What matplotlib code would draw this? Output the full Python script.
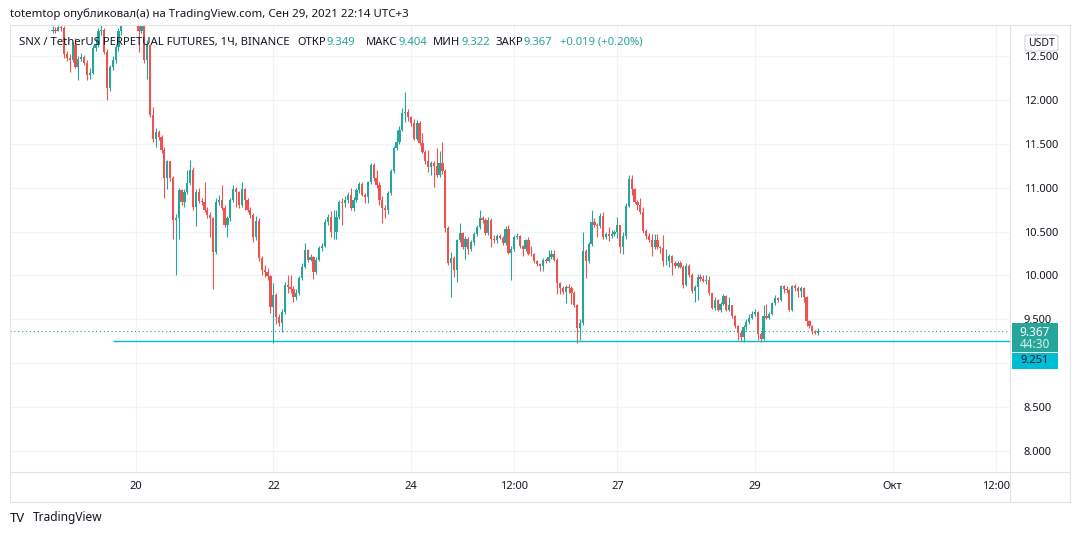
import datetime as dt
import numpy as np
import matplotlib
matplotlib.use("Agg")
import matplotlib.pyplot as plt
import matplotlib.dates as mdates
from matplotlib.patches import Rectangle, FancyBboxPatch
from matplotlib.lines import Line2D

plt.rcParams['font.family'] = ['Noto Sans', 'DejaVu Sans']

# ---------------- data ----------------
first_candle = dt.datetime(2021, 9, 18, 19, 0)
first_open = 12.78

close = [
    # Sep 18 19:00-23:00
    12.80, 12.79, 12.83, 12.82, 12.52,
    # Sep 19
    12.48, 12.45, 12.62, 12.38, 12.47, 12.49, 12.42, 12.28, 12.31, 12.59, 12.63, 12.78,
    12.80, 12.55, 12.13, 12.38, 12.46, 12.60, 12.78, 12.92, 13.02, 13.05, 12.98, 13.03,
    # Sep 20
    12.95, 12.78, 12.84, 12.45, 12.62, 11.83, 11.56, 11.63, 11.58, 11.43, 11.11, 11.30,
    11.11, 10.63, 10.66, 10.97, 10.84, 10.95, 11.05, 11.20, 10.78, 10.95, 10.85, 10.84,
    # Sep 21
    10.75, 10.69, 10.65, 10.27, 10.84, 10.86, 10.77, 10.57, 10.65, 10.86, 10.99, 10.95,
    10.80, 10.99, 10.86, 10.75, 10.69, 10.44, 10.62, 10.20, 10.06, 10.04, 9.99, 9.64,
    # Sep 22
    9.78, 9.53, 9.46, 9.58, 9.89, 9.87, 9.84, 9.76, 9.80, 9.97, 10.10, 10.29,
    10.18, 10.21, 10.04, 10.18, 10.31, 10.34, 10.61, 10.67, 10.49, 10.50, 10.67, 10.84,
    # Sep 23
    10.82, 10.86, 10.92, 10.77, 10.86, 10.97, 11.04, 10.92, 10.89, 11.06, 11.26, 11.11,
    11.03, 10.86, 10.77, 10.74, 10.94, 11.19, 11.45, 11.52, 11.66, 11.85, 11.86, 11.80,
    # Sep 24
    11.74, 11.56, 11.74, 11.51, 11.41, 11.30, 11.24, 11.28, 11.25, 11.14, 11.28, 11.19,
    10.54, 10.14, 10.20, 10.06, 10.40, 10.48, 10.32, 10.42, 10.30, 10.38, 10.47, 10.55,
    # Sep 25
    10.65, 10.63, 10.48, 10.63, 10.42, 10.40, 10.45, 10.43, 10.37, 10.53, 10.26, 10.30,
    10.44, 10.45, 10.33, 10.30, 10.40, 10.25, 10.24, 10.16, 10.13, 10.11, 10.18, 10.17,
    # Sep 26
    10.21, 10.24, 10.18, 9.91, 9.86, 9.81, 9.87, 9.86, 9.80, 9.66, 9.40, 9.46,
    10.28, 10.16, 10.36, 10.61, 10.58, 10.56, 10.68, 10.44, 10.47, 10.45, 10.47, 10.49,
    # Sep 27
    10.57, 10.32, 10.45, 10.79, 11.10, 10.98, 10.84, 10.80, 10.72, 10.51, 10.45, 10.40,
    10.32, 10.40, 10.32, 10.31, 10.16, 10.16, 10.22, 10.14, 10.11, 10.14, 10.10, 9.89,
    # Sep 28
    10.11, 10.00, 9.82, 9.87, 9.98, 9.96, 9.94, 9.95, 9.80, 9.63, 9.72, 9.61,
    9.68, 9.77, 9.61, 9.66, 9.54, 9.42, 9.34, 9.30, 9.41, 9.47, 9.52, 9.56,
    # Sep 29 00:00-22:00
    9.58, 9.33, 9.28, 9.54, 9.52, 9.56, 9.69, 9.74, 9.72, 9.88, 9.85, 9.83,
    9.61, 9.88, 9.86, 9.82, 9.86, 9.76, 9.48, 9.42, 9.37, 9.349, 9.367,
]

high = [
    12.84, 12.83, 12.86, 12.87, 12.84,
    12.56, 12.52, 12.66, 12.70, 12.50, 12.53, 12.51, 12.45, 12.36, 12.62, 12.70, 12.82,
    12.86, 12.82, 12.58, 12.40, 12.50, 12.64, 12.82, 12.96, 13.08, 13.12, 13.08, 13.10,
    13.05, 12.98, 12.90, 12.86, 12.68, 12.64, 11.92, 11.68, 11.66, 11.60, 11.46, 11.32,
    11.29, 11.13, 10.70, 11.00, 10.99, 10.98, 11.20, 11.32, 11.23, 10.98, 11.00, 10.88,
    11.07, 10.78, 10.72, 10.67, 10.88, 10.92, 11.03, 10.80, 10.68, 10.88, 11.03, 11.01,
    10.96, 11.07, 11.00, 10.88, 10.78, 10.71, 10.68, 10.66, 10.22, 10.12, 10.08, 10.00,
    9.91, 9.80, 9.56, 9.62, 9.92, 10.00, 10.00, 9.88, 9.84, 9.99, 10.14, 10.37,
    10.30, 10.25, 10.22, 10.21, 10.34, 10.37, 10.64, 10.70, 10.73, 10.74, 10.74, 10.86,
    10.88, 10.90, 10.95, 11.00, 10.89, 11.00, 11.07, 11.06, 10.94, 11.08, 11.28, 11.28,
    11.20, 11.06, 10.90, 10.80, 10.96, 11.21, 11.48, 11.66, 11.70, 11.91, 12.09, 11.90,
    11.82, 11.78, 11.77, 11.76, 11.62, 11.43, 11.43, 11.30, 11.30, 11.45, 11.42, 11.52,
    11.21, 10.56, 10.27, 10.22, 10.42, 10.60, 10.50, 10.45, 10.44, 10.40, 10.49, 10.58,
    10.75, 10.68, 10.65, 10.67, 10.65, 10.46, 10.47, 10.47, 10.45, 10.56, 10.57, 10.33,
    10.46, 10.48, 10.46, 10.35, 10.42, 10.44, 10.33, 10.26, 10.18, 10.14, 10.20, 10.20,
    10.29, 10.29, 10.29, 10.20, 9.93, 9.88, 9.89, 9.90, 9.88, 9.82, 9.68, 9.50,
    10.50, 10.30, 10.38, 10.74, 10.65, 10.60, 10.71, 10.72, 10.50, 10.55, 10.52, 10.52,
    10.67, 10.57, 10.50, 10.82, 11.15, 11.14, 11.00, 10.86, 10.88, 10.78, 10.53, 10.48,
    10.47, 10.47, 10.47, 10.34, 10.46, 10.30, 10.24, 10.23, 10.16, 10.16, 10.17, 10.12,
    10.14, 10.13, 10.03, 9.89, 10.02, 10.02, 10.01, 10.00, 9.99, 9.80, 9.76, 9.73,
    9.70, 9.79, 9.78, 9.76, 9.66, 9.55, 9.43, 9.38, 9.43, 9.50, 9.56, 9.60,
    9.62, 9.60, 9.36, 9.66, 9.68, 9.58, 9.70, 9.78, 9.76, 9.89, 9.89, 9.88,
    9.84, 9.89, 9.90, 9.88, 9.88, 9.87, 9.77, 9.49, 9.44, 9.38, 9.404,
]

low = [
    12.76, 12.76, 12.78, 12.79, 12.48,
    12.44, 12.32, 12.43, 12.36, 12.23, 12.44, 12.40, 12.23, 12.24, 12.29, 12.56, 12.60,
    12.74, 12.52, 12.00, 12.10, 12.34, 12.42, 12.56, 12.74, 12.90, 12.98, 12.93, 12.95,
    12.90, 12.55, 12.76, 12.42, 12.24, 11.80, 11.52, 11.46, 11.54, 11.40, 10.88, 10.99,
    11.08, 10.42, 10.00, 10.42, 10.80, 10.78, 10.93, 11.03, 10.75, 10.56, 10.82, 10.80,
    10.72, 10.66, 10.44, 9.85, 10.25, 10.80, 10.74, 10.55, 10.44, 10.62, 10.84, 10.78,
    10.77, 10.78, 10.75, 10.72, 10.66, 10.38, 10.40, 10.16, 10.00, 9.98, 9.95, 9.57,
    9.23, 9.45, 9.42, 9.36, 9.56, 9.80, 9.80, 9.70, 9.72, 9.78, 9.95, 10.08,
    10.15, 10.16, 9.96, 10.02, 10.16, 10.28, 10.32, 10.58, 10.44, 10.42, 10.41, 10.64,
    10.57, 10.78, 10.82, 10.75, 10.73, 10.84, 10.94, 10.90, 10.83, 10.83, 11.04, 11.08,
    11.00, 10.80, 10.60, 10.66, 10.70, 10.92, 11.17, 11.43, 11.50, 11.64, 11.75, 11.76,
    11.70, 11.54, 11.54, 11.49, 11.39, 11.27, 11.18, 11.14, 11.01, 11.12, 11.12, 11.16,
    10.50, 10.12, 9.76, 9.98, 9.93, 10.38, 10.30, 10.19, 10.24, 10.28, 10.35, 10.45,
    10.53, 10.60, 10.46, 10.46, 10.32, 10.37, 10.37, 10.41, 10.35, 10.35, 10.24, 9.95,
    10.28, 10.42, 10.31, 10.22, 10.28, 10.23, 10.22, 10.14, 10.11, 10.05, 10.05, 10.14,
    10.15, 10.19, 10.16, 9.79, 9.79, 9.79, 9.69, 9.80, 9.68, 9.64, 9.23, 9.27,
    9.44, 9.97, 10.14, 10.34, 10.55, 10.44, 10.54, 10.42, 10.42, 10.39, 10.43, 10.45,
    10.43, 10.26, 10.25, 10.42, 10.78, 10.92, 10.82, 10.74, 10.70, 10.48, 10.42, 10.38,
    10.22, 10.30, 10.30, 10.26, 10.11, 10.12, 10.10, 10.00, 10.08, 10.08, 10.08, 9.86,
    9.88, 9.98, 9.80, 9.70, 9.72, 9.94, 9.92, 9.90, 9.78, 9.62, 9.61, 9.60,
    9.58, 9.66, 9.59, 9.60, 9.52, 9.40, 9.26, 9.25, 9.245, 9.38, 9.45, 9.50,
    9.54, 9.26, 9.245, 9.27, 9.50, 9.50, 9.55, 9.66, 9.70, 9.71, 9.80, 9.80,
    9.59, 9.60, 9.82, 9.76, 9.76, 9.70, 9.42, 9.40, 9.33, 9.33, 9.322,
]

last_price = 9.367
last_open, last_high, last_low = 9.349, 9.404, 9.322
change_text = "+0.019 (+0.20%)"
level_price = 9.251
level_start = dt.datetime(2021, 9, 19, 16, 0)
countdown = "44:30"
price_ticks = [8.0, 8.5, 9.0, 9.5, 10.0, 10.5, 11.0, 11.5, 12.0, 12.5]
hidden_price_labels = [9.0]   # covered by the price tags in the original
time_tick_dates = [dt.datetime(2021, 9, 20), dt.datetime(2021, 9, 22), dt.datetime(2021, 9, 24),
                   dt.datetime(2021, 9, 25, 12), dt.datetime(2021, 9, 27), dt.datetime(2021, 9, 29),
                   dt.datetime(2021, 10, 1), dt.datetime(2021, 10, 2, 12)]
time_tick_labels = ["20", "22", "24", "12:00", "27", "29", "Окт", "12:00"]

title = "totemtop опубликовал(а) на TradingView.com, Сен 29, 2021 22:14 UTC+3"
symbol = "SNX / TetherUS PERPETUAL FUTURES, 1Ч, BINANCE"

# ---------------- style / layout ----------------
UP = '#26a69a'
DOWN = '#ef5350'
CYAN = '#00bcd4'
TXT = '#131722'
GRID = '#f0f3fa'
BORDER = '#e0e3eb'

W, H = 1079, 536
L, R, T, B = 10, 1010, 25, 472
X0_PX, PX_PER_HOUR = 135.7, 2.867      # Sep 20 00:00 pixel position, hourly spacing
Y_REF_PX, PX_PER_UNIT = 56.0, 87.78    # 12.5 pixel position, pixels per 1.0

fig = plt.figure(figsize=(W / 100, H / 100), dpi=100)
fig.patch.set_facecolor('white')
ax = fig.add_axes([L / W, 1 - B / H, (R - L) / W, (B - T) / H])
ax.set_facecolor('white')

base = mdates.date2num(dt.datetime(2021, 9, 20))
hour = 1.0 / 24
xmin = base + (L - X0_PX) / PX_PER_HOUR * hour
xmax = base + (R - X0_PX) / PX_PER_HOUR * hour
ymin = 12.5 - (B - Y_REF_PX) / PX_PER_UNIT
ymax = 12.5 - (T - Y_REF_PX) / PX_PER_UNIT
ax.set_xlim(xmin, xmax)
ax.set_ylim(ymin, ymax)

# candles
n = len(close)
xs = mdates.date2num([first_candle + dt.timedelta(hours=i) for i in range(n)])
c = np.array(close)
o = np.array([first_open] + close[:-1])
o[-1] = last_open
h = np.maximum(np.array(high), np.maximum(o, c))
l = np.minimum(np.array(low), np.minimum(o, c))
cols = np.where(c >= o, UP, DOWN)
ax.vlines(xs, l, h, colors=cols, linewidth=0.8, zorder=3)
ax.bar(xs, np.maximum(np.abs(c - o), 0.007), bottom=np.minimum(o, c), width=0.78 * hour,
       color=cols, linewidth=0, zorder=4)

# grid and ticks
ax.set_yticks(price_ticks)
ax.set_yticklabels(["" if v in hidden_price_labels else f"{v:.3f}" for v in price_ticks])
ax.set_xticks(mdates.date2num(time_tick_dates))
ax.set_xticklabels(time_tick_labels)
ax.grid(True, color=GRID, linewidth=0.8)
ax.set_axisbelow(True)
ax.yaxis.tick_right()
ax.tick_params(axis='y', length=0, pad=10, labelsize=8, labelcolor=TXT)
ax.tick_params(axis='x', length=0, pad=6.5, labelsize=8, labelcolor=TXT)
for s in ax.spines.values():
    s.set_visible(False)

# lines
ax.axhline(last_price, color=UP, linewidth=0.8, linestyle=(0, (1, 2.5)), zorder=5)
ax.hlines(level_price, mdates.date2num(level_start), xmax, color=CYAN, linewidth=1.0, zorder=5)

# ---------------- figure-level decorations ----------------
def fx(x):
    return x / W

def fy(y):
    return 1 - y / H

for (x1, y1, x2, y2) in [(L, T, 1070, T), (L, T, L, 502), (1070, T, 1070, 502), (L, 502, 1070, 502),
                         (R, T, R, 502), (L, B, 1070, B)]:
    fig.add_artist(Line2D([fx(x1), fx(x2)], [fy(y1), fy(y2)], color=BORDER, linewidth=0.8))

renderer = fig.canvas.get_renderer()

def put(xp, yp, s, size, color=TXT, weight='normal', ha='left', target=None):
    t = fig.text(fx(xp), fy(yp), s, fontsize=size, color=color, fontweight=weight,
                 ha=ha, va='center', zorder=10)
    if target:
        w = t.get_window_extent(renderer).width
        t.set_fontsize(size * target / w)
    return t

def right_of(t):
    return t.get_window_extent(renderer).x1

put(10, 14, title, 9, color=TXT, target=398)
sym = put(19, 42, symbol, 9, target=271)
sz = sym.get_fontsize()
pairs = [("ОТКР", f"{last_open:.3f}", 297), ("МАКС", f"{last_high:.3f}", 366),
         ("МИН", f"{last_low:.3f}", 433), ("ЗАКР", f"{last_price:.3f}", 495)]
for lab, val, xp in pairs:
    tl = put(xp, 42, lab, sz)
    put(right_of(tl) + 1, 42, val, sz, color=UP)
put(560, 42, change_text, sz, color=UP)

# USDT box
fig.add_artist(FancyBboxPatch((fx(1025), fy(51)), fx(33), 16 / H,
                              boxstyle="round,pad=0,rounding_size=0.003",
                              facecolor='white', edgecolor='#d1d4dc', linewidth=0.8, zorder=8))
put(1041.5, 43, "USDT", 7.5, ha='center')

# price tags
fig.add_artist(Rectangle((fx(1012), fy(352)), fx(46), 29 / H, facecolor=UP, edgecolor='none', zorder=8))
put(1035, 332, f"{last_price:.3f}", 8.5, color='white', weight='bold', ha='center')
put(1035, 345, countdown, 8.5, color='#d6f0ec', weight='bold', ha='center')
fig.add_artist(Rectangle((fx(1012), fy(368.5)), fx(46), 16 / H, facecolor=CYAN, edgecolor='none', zorder=8))
put(1035, 360.5, f"{level_price:.3f}", 8, color=TXT, ha='center')

# watermark
put(10, 518, "TV", 9.5, weight='heavy')
put(33, 518, "TradingView", 9, target=70)

fig.savefig("out.png", dpi=100, facecolor='white')
